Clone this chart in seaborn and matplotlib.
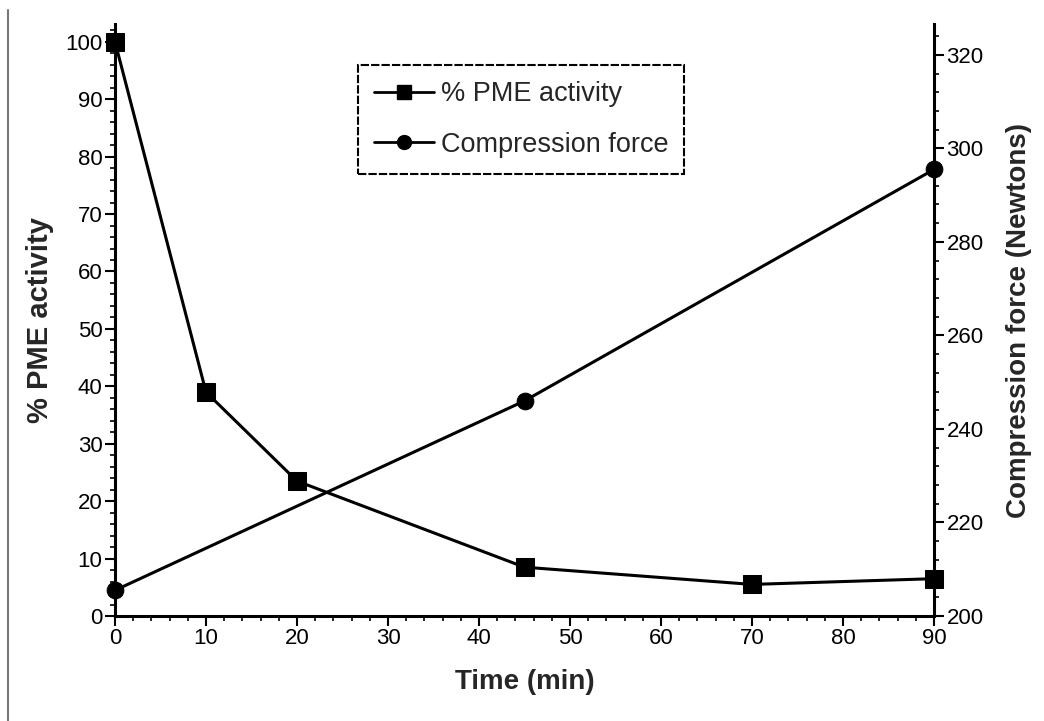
import matplotlib
matplotlib.use("Agg")
import matplotlib.pyplot as plt
import seaborn as sns
import pandas as pd
from matplotlib.ticker import MultipleLocator
from matplotlib.lines import Line2D

sns.set_theme(style="ticks")
plt.rcParams['font.family'] = ['Liberation Sans', 'DejaVu Sans']

# Data
pme_time = [0, 10, 20, 45, 70, 90]
pme_activity = [100, 39, 23.5, 8.5, 5.5, 6.5]
force_time = [0, 45, 90]
force_newtons = [205.5, 246, 295.5]

x_ticks = [0, 10, 20, 30, 40, 50, 60, 70, 80, 90]
left_ticks = [0, 10, 20, 30, 40, 50, 60, 70, 80, 90, 100]
right_ticks = [200, 220, 240, 260, 280, 300, 320]

df_pme = pd.DataFrame({"Time": pme_time, "PME": pme_activity})
df_force = pd.DataFrame({"Time": force_time, "Force": force_newtons})

fig = plt.figure(figsize=(10.44, 7.21), dpi=100)
ax = fig.add_axes([115/1044, 1 - 616/721, (934-115)/1044, (616-24)/721])
ax2 = ax.twinx()

sns.lineplot(data=df_pme, x="Time", y="PME", ax=ax, color="black", linewidth=2.2,
             marker="s", markersize=13, markeredgecolor="black", markerfacecolor="black",
             clip_on=False, zorder=5)
sns.lineplot(data=df_force, x="Time", y="Force", ax=ax2, color="black", linewidth=2.2,
             marker="o", markersize=12, markeredgecolor="black", markerfacecolor="black",
             clip_on=False, zorder=5)

ax.set_xlim(0, 90)
ax.set_ylim(0, 103.1)
ax2.set_ylim(200, 326.6)

ax.set_xticks(x_ticks)
ax.set_yticks(left_ticks)
ax2.set_yticks(right_ticks)
ax.xaxis.set_minor_locator(MultipleLocator(2))
ax.yaxis.set_minor_locator(MultipleLocator(2))
ax2.yaxis.set_minor_locator(MultipleLocator(4))

for a in (ax, ax2):
    a.tick_params(which="major", direction="out", length=7, width=1.5, labelsize=16, pad=2, colors="black")
    a.tick_params(which="minor", direction="out", length=3.5, width=1.2, colors="black")
    for s in a.spines.values():
        s.set_linewidth(2.2)
        s.set_color("black")

ax.spines["top"].set_visible(False)
ax2.spines["top"].set_visible(False)
ax.spines["right"].set_visible(False)
ax2.spines["left"].set_visible(False)
ax2.spines["bottom"].set_visible(False)

ax.set_xlabel("Time (min)", fontsize=20, fontweight="bold", labelpad=14)
ax.set_ylabel("% PME activity", fontsize=21, fontweight="bold", labelpad=8)
ax2.set_ylabel("Compression force (Newtons)", fontsize=20, fontweight="bold", labelpad=16)

handles = [
    Line2D([], [], color="black", linewidth=2, marker="s", markersize=10),
    Line2D([], [], color="black", linewidth=2, marker="o", markersize=10),
]
leg = ax.legend(handles, ["% PME activity", "Compression force"],
                loc="upper left", bbox_to_anchor=((358-115)/819, (616-65)/592),
                fontsize=19.5, frameon=True, fancybox=False, handlelength=2.2,
                handletextpad=0.25, labelspacing=0.9, borderpad=0.6, borderaxespad=0)
frame = leg.get_frame()
frame.set_edgecolor("black")
frame.set_linewidth(1.5)
frame.set_linestyle((0, (4, 1)))
frame.set_alpha(1)

fig.add_artist(Line2D([8/1044, 8/1044], [0, 1 - 10/721], color="#777777", linewidth=1.5))

fig.savefig("out.png", dpi=100, facecolor="white")
